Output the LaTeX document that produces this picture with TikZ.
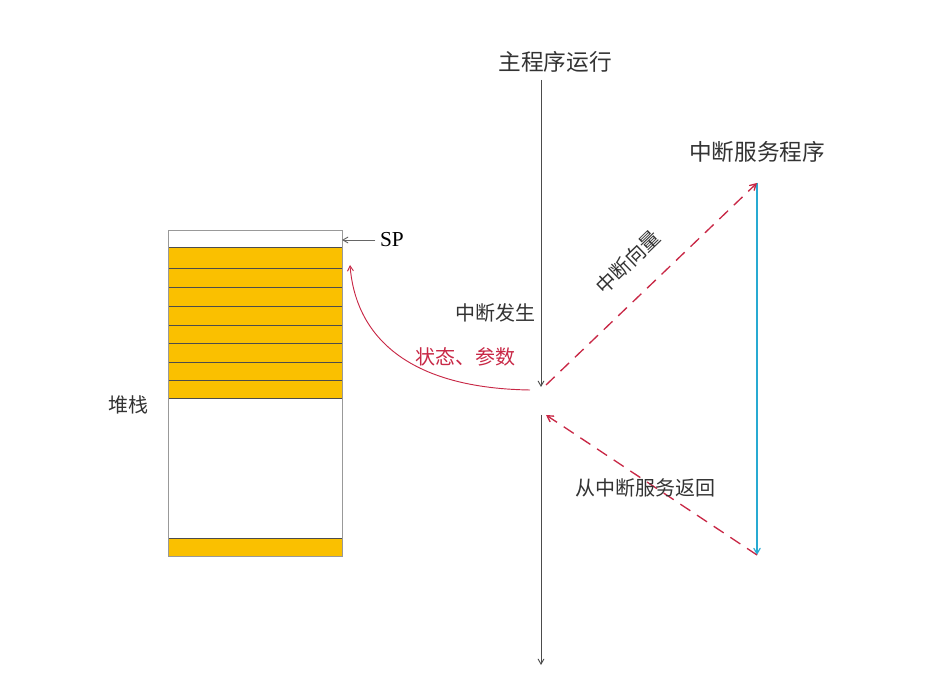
\documentclass[tikz,border=0pt]{standalone}
\usepackage{fontspec}
\newfontfamily\cjk{Noto Sans CJK SC}
\setmainfont{Liberation Serif}
\usetikzlibrary{arrows}
\definecolor{stackfill}{RGB}{250,192,0}
\definecolor{redline}{RGB}{200,40,70}
\definecolor{cyanline}{RGB}{40,170,210}
\tikzset{
  >=angle 60,
  slot/.style={fill=stackfill, draw=black!70},
  flow/.style={draw=black!70, line width=0.7pt, ->},
  jump/.style={draw=redline, dash pattern=on 9pt off 6pt, line width=1pt, ->},
  lbl/.style={font=\cjk\fontsize{15}{15}\selectfont, text=black!80}
}
\begin{document}
\begin{tikzpicture}[x=0.75pt,y=-0.75pt]
  \useasboundingbox (0,0) rectangle (940,677);
  % stack
  \foreach \t/\b in {247/268, 268/287, 287/306, 306/325, 325/343, 343/362, 362/380, 380/398}
    \draw[slot] (168,\t) rectangle (342,\b);
  \draw[slot] (168,538) rectangle (342,556);
  \draw[draw=black!40] (168,230) rectangle (342,556);
  \coordinate (stacktop) at (342,240);
  \coordinate (stackin) at (350,265);
  \node[font=\fontsize{16}{16}\selectfont] (SP) at (392,240) {SP};
  \draw[draw=black!60, line width=0.7pt, ->] (SP.west) -- (stacktop);
  \node[lbl] (stack) at (128,405) {堆栈};
  % main program
  \node[lbl, font=\cjk\fontsize{17}{17}\selectfont] (main) at (555,62) {主程序运行};
  \coordinate (irq) at (541,387);
  \coordinate (ret) at (541,415);
  \coordinate (end) at (541,665);
  \draw[flow] (541,80) -- (irq);
  \draw[flow] (ret) -- (end);
  \node[lbl] (occur) at (495,313) {中断发生};
  % service routine
  \node[lbl, font=\cjk\fontsize{17}{17}\selectfont] (isr) at (757,152) {中断服务程序};
  \coordinate (isrtop) at (757,183);
  \coordinate (isrend) at (757,555);
  \draw[draw=cyanline, line width=0.9pt, ->] (isrtop) -- (isrend);
  \draw[jump] (546,385) -- (isrtop);
  \draw[jump] (isrend) -- (546,415);
  \node[lbl, rotate=44, inner sep=0pt] (vector) at (628,262) {中断向量};
  \node[lbl] (back) at (645,488) {从中断服务返回};
  % push status
  \draw[draw=redline, line width=0.7pt, ->] (530,390) .. controls (400,388) and (355,330) .. (stackin);
  \node[lbl, text=redline] (push) at (465,357) {状态、参数};
\end{tikzpicture}
\end{document}
